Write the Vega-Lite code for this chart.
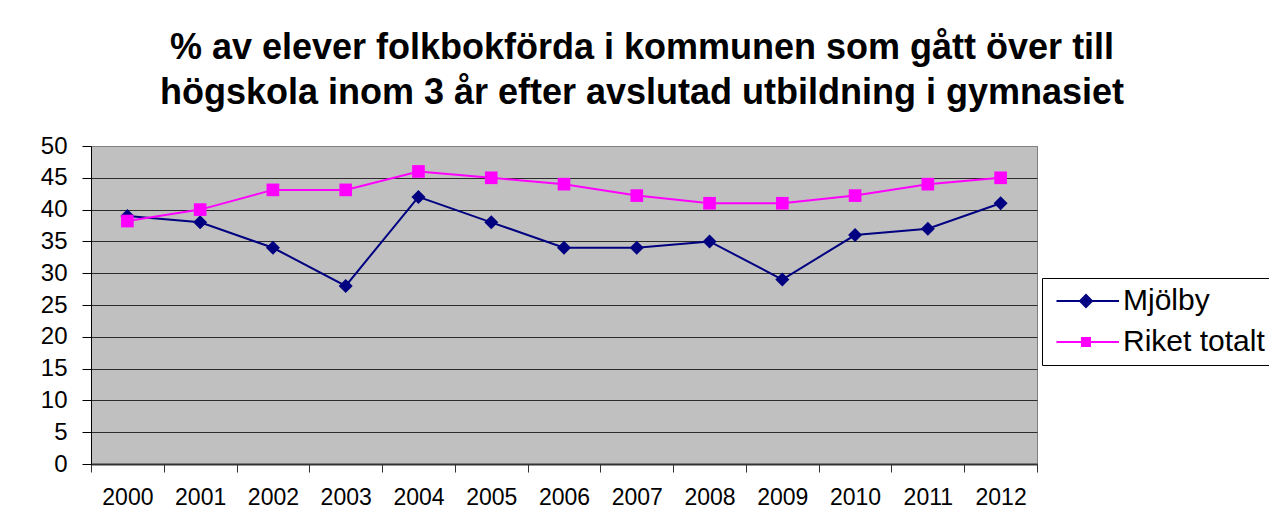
{
  "$schema": "https://vega.github.io/schema/vega-lite/v6.json",
  "width": 946,
  "height": 318,
  "autosize": "none",
  "padding": {"left": 91, "top": 146, "right": 232, "bottom": 66},
  "background": "white",
  "title": {
    "text": ["% av elever folkbokförda i kommunen som gått över till", "högskola inom 3 år efter avslutad utbildning i gymnasiet"],
    "font": "Liberation Sans",
    "fontSize": 36,
    "fontWeight": "bold",
    "color": "black",
    "anchor": "middle",
    "dx": 78,
    "lineHeight": 45,
    "offset": 22
  },
  "data": {
    "values": [
      {"year": "2000", "series": "Mjölby", "value": 39},
      {"year": "2001", "series": "Mjölby", "value": 38},
      {"year": "2002", "series": "Mjölby", "value": 34},
      {"year": "2003", "series": "Mjölby", "value": 28},
      {"year": "2004", "series": "Mjölby", "value": 42},
      {"year": "2005", "series": "Mjölby", "value": 38},
      {"year": "2006", "series": "Mjölby", "value": 34},
      {"year": "2007", "series": "Mjölby", "value": 34},
      {"year": "2008", "series": "Mjölby", "value": 35},
      {"year": "2009", "series": "Mjölby", "value": 29},
      {"year": "2010", "series": "Mjölby", "value": 36},
      {"year": "2011", "series": "Mjölby", "value": 37},
      {"year": "2012", "series": "Mjölby", "value": 41},
      {"year": "2000", "series": "Riket totalt", "value": 38.2},
      {"year": "2001", "series": "Riket totalt", "value": 40},
      {"year": "2002", "series": "Riket totalt", "value": 43.1},
      {"year": "2003", "series": "Riket totalt", "value": 43.1},
      {"year": "2004", "series": "Riket totalt", "value": 46},
      {"year": "2005", "series": "Riket totalt", "value": 45},
      {"year": "2006", "series": "Riket totalt", "value": 44},
      {"year": "2007", "series": "Riket totalt", "value": 42.2},
      {"year": "2008", "series": "Riket totalt", "value": 41},
      {"year": "2009", "series": "Riket totalt", "value": 41},
      {"year": "2010", "series": "Riket totalt", "value": 42.2},
      {"year": "2011", "series": "Riket totalt", "value": 44},
      {"year": "2012", "series": "Riket totalt", "value": 45}
    ]
  },
  "encoding": {
    "x": {
      "field": "year",
      "type": "nominal",
      "bandPosition": 0.5,
      "scale": {"type": "band", "paddingInner": 0, "paddingOuter": 0},
      "axis": {
        "title": null,
        "labelAngle": 0,
        "tickBand": "extent",
        "tickSize": 8,
        "tickColor": "#333333",
        "domainColor": "#333333",
        "domainWidth": 2,
        "labelFont": "Liberation Sans",
        "labelFontSize": 23,
        "labelColor": "black",
        "labelPadding": 14,
        "grid": false
      }
    },
    "y": {
      "field": "value",
      "type": "quantitative",
      "scale": {"domain": [0, 50], "nice": false, "zero": true},
      "axis": {
        "title": null,
        "values": [0, 5, 10, 15, 20, 25, 30, 35, 40, 45, 50],
        "tickSize": 9,
        "tickColor": "black",
        "domainColor": "black",
        "labelFont": "Liberation Sans",
        "labelFontSize": 24,
        "labelColor": "black",
        "labelPadding": 15,
        "grid": true,
        "gridColor": {"condition": {"test": "datum.value == 50", "value": "#808080"}, "value": "#2b2b2b"},
        "gridOpacity": 1,
        "gridWidth": 1
      }
    }
  },
  "layer": [
    {
      "mark": {"type": "line", "strokeWidth": 2},
      "encoding": {
        "color": {
          "field": "series",
          "type": "nominal",
          "title": null,
          "scale": {"domain": ["Mjölby", "Riket totalt"], "range": ["#000080", "#FF00FF"]},
          "legend": {
            "title": null,
            "orient": "none",
            "legendX": 951,
            "legendY": 132,
            "strokeColor": "black",
            "fillColor": "white",
            "padding": 8,
            "rowPadding": 11,
            "symbolSize": 100,
            "symbolStrokeWidth": 2,
            "labelFont": "Liberation Sans",
            "labelFontSize": 30,
            "labelColor": "black",
            "labelOffset": 43
          }
        }
      }
    },
    {
      "transform": [{"filter": "datum.series === 'Mjölby'"}],
      "mark": {"type": "point", "shape": "diamond", "filled": true, "size": 196, "color": "#000080", "opacity": 1}
    },
    {
      "transform": [{"filter": "datum.series === 'Riket totalt'"}],
      "mark": {"type": "point", "shape": "square", "filled": true, "size": 160, "color": "#FF00FF", "opacity": 1}
    },
    {
      "transform": [{"filter": "datum.value < 0"}],
      "mark": {"type": "point", "filled": false, "strokeWidth": 2, "opacity": 1},
      "encoding": {
        "color": {
          "field": "series",
          "type": "nominal",
          "title": null,
          "scale": {"domain": ["Mjölby", "Riket totalt"], "range": ["#000080", "#FF00FF"]}
        },
        "shape": {
          "field": "series",
          "type": "nominal",
          "title": null,
          "scale": {
            "domain": ["Mjölby", "Riket totalt"],
            "range": [
              "M-1.7,0L10.8,0M4.2,-1.2L5.4,0L4.2,1.2L3,0ZM4.2,-0.6L4.8,0L4.2,0.6L3.6,0Z",
              "M-1.7,0L10.8,0M3.4,-0.8L5,-0.8L5,0.8L3.4,0.8ZM3.8,-0.4L4.6,-0.4L4.6,0.4L3.8,0.4Z"
            ]
          }
        }
      }
    }
  ],
  "config": {
    "view": {"fill": "#C0C0C0", "stroke": "#808080", "strokeWidth": 1}
  }
}
